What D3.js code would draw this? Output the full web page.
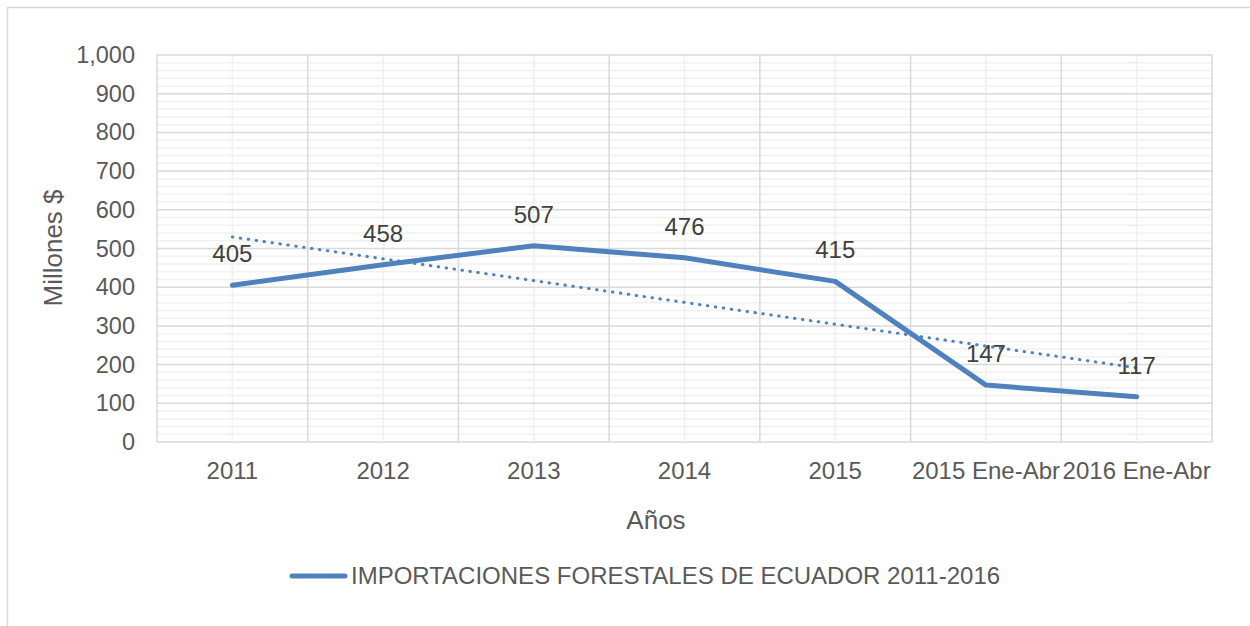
<!DOCTYPE html>
<html>
<head>
<meta charset="utf-8">
<title>Importaciones forestales</title>
<script src="https://cdn.jsdelivr.net/npm/d3@7"></script>
<style>
  body { margin: 0; padding: 0; background: #fff; }
  svg text { font-family: "Liberation Sans", Arial, sans-serif; }
</style>
</head>
<body>
<div id="chart"></div>
<script>
  // data
  var categorias = ["2011", "2012", "2013", "2014", "2015", "2015 Ene-Abr", "2016 Ene-Abr"]
  var valores = [405, 458, 507, 476, 415, 147, 117]
  var yTicks = [0, 100, 200, 300, 400, 500, 600, 700, 800, 900, 1000]
  var serieNombre = "IMPORTACIONES FORESTALES DE ECUADOR 2011-2016"
  var tituloX = "Años"
  var tituloY = "Millones $"

  var W = 1250, H = 626
  var plot = { left: 157, right: 1212, top: 55, bottom: 442 }
  var azul = "#4f81bd"

  var svg = d3.select("#chart").append("svg")
    .attr("width", W).attr("height", H)

  // outer chart border
  svg.append("rect")
    .attr("x", 7.5).attr("y", 7.5)
    .attr("width", W).attr("height", H)
    .attr("fill", "none").attr("stroke", "#d9d9d9").attr("stroke-width", 1.5)

  var x = d3.scaleBand()
    .domain(categorias)
    .range([plot.left, plot.right])
    .padding(0)
  var cx = function (c) { return x(c) + x.bandwidth() / 2 }

  var y = d3.scaleLinear()
    .domain([0, 1000])
    .range([plot.bottom, plot.top])

  var g = svg.append("g")

  // minor horizontal grid (every 20)
  var minor = d3.range(0, 1001, 20).filter(function (v) { return v % 100 != 0 })
  g.selectAll(".hminor").data(minor).enter().append("line")
    .attr("x1", plot.left).attr("x2", plot.right)
    .attr("y1", function (d) { return y(d) }).attr("y2", function (d) { return y(d) })
    .attr("stroke", "#f0f0f0").attr("stroke-width", 1.5)

  // minor vertical grid at category centers
  g.selectAll(".vminor").data(categorias).enter().append("line")
    .attr("x1", cx).attr("x2", cx)
    .attr("y1", plot.top).attr("y2", plot.bottom)
    .attr("stroke", "#f0f0f0").attr("stroke-width", 1.5)

  // major horizontal grid
  g.selectAll(".hmajor").data(yTicks).enter().append("line")
    .attr("x1", plot.left).attr("x2", plot.right)
    .attr("y1", function (d) { return y(d) }).attr("y2", function (d) { return y(d) })
    .attr("stroke", "#d9d9d9").attr("stroke-width", 1.5)

  // major vertical grid at category boundaries
  var limites = categorias.map(function (c) { return x(c) }).concat([plot.right])
  g.selectAll(".vmajor").data(limites).enter().append("line")
    .attr("x1", function (d) { return d }).attr("x2", function (d) { return d })
    .attr("y1", plot.top).attr("y2", plot.bottom)
    .attr("stroke", "#d9d9d9").attr("stroke-width", 1.5)

  // y axis labels
  var fmt = d3.format(",")
  var yAxis = d3.axisLeft(y).tickValues(yTicks).tickFormat(fmt).tickSize(0).tickPadding(22)
  var ya = svg.append("g").attr("transform", "translate(" + plot.left + ",0)").call(yAxis)
  ya.select(".domain").remove()
  ya.selectAll("text").attr("fill", "#595959").style("font-size", "23.5px")

  // x axis labels
  var xAxis = d3.axisBottom(x).tickSize(0).tickPadding(20)
  var xa = svg.append("g").attr("transform", "translate(0," + plot.bottom + ")").call(xAxis)
  xa.select(".domain").remove()
  xa.selectAll("text").attr("fill", "#595959").style("font-size", "24px")

  // axis titles
  svg.append("text")
    .attr("x", 656).attr("y", 529)
    .attr("text-anchor", "middle").attr("fill", "#595959")
    .style("font-size", "26px").text(tituloX)
  svg.append("text")
    .attr("transform", "translate(62,248) rotate(-90)")
    .attr("text-anchor", "middle").attr("fill", "#595959")
    .style("font-size", "26px").text(tituloY)

  // linear trendline (least squares on the series)
  var n = valores.length
  var xs = d3.range(1, n + 1)
  var mx = d3.mean(xs), my = d3.mean(valores)
  var sxy = d3.sum(xs, function (v, i) { return (v - mx) * (valores[i] - my) })
  var sxx = d3.sum(xs, function (v) { return (v - mx) * (v - mx) })
  var pend = sxy / sxx
  var tend = [
    { c: categorias[0], v: my + pend * (1 - mx) },
    { c: categorias[n - 1], v: my + pend * (n - mx) }
  ]

  var datos = categorias.map(function (c, i) { return { c: c, v: valores[i] } })

  var linea = d3.line()
    .x(function (d) { return cx(d.c) })
    .y(function (d) { return y(d.v) })

  svg.append("path")
    .datum(datos)
    .attr("fill", "none")
    .attr("stroke", azul)
    .attr("stroke-width", 5)
    .attr("stroke-linejoin", "round")
    .attr("stroke-linecap", "round")
    .attr("d", linea)

  svg.append("path")
    .datum(tend)
    .attr("fill", "none")
    .attr("stroke", azul)
    .attr("stroke-width", 3)
    .attr("stroke-linecap", "round")
    .style("stroke-dasharray", "0.5,7.5")
    .attr("d", linea)

  // data labels
  svg.selectAll(".lbl").data(datos).enter().append("text")
    .attr("x", function (d) { return cx(d.c) })
    .attr("y", function (d) { return y(d.v) - 23 })
    .attr("text-anchor", "middle")
    .attr("fill", "#404040")
    .style("font-size", "24px")
    .text(function (d) { return d.v })

  // legend
  svg.append("line")
    .attr("x1", 292).attr("x2", 345).attr("y1", 576).attr("y2", 576)
    .attr("stroke", azul).attr("stroke-width", 5).attr("stroke-linecap", "round")
  svg.append("text")
    .attr("x", 351).attr("y", 584)
    .attr("fill", "#595959")
    .style("font-size", "24px")
    .text(serieNombre)
</script>
</body>
</html>
